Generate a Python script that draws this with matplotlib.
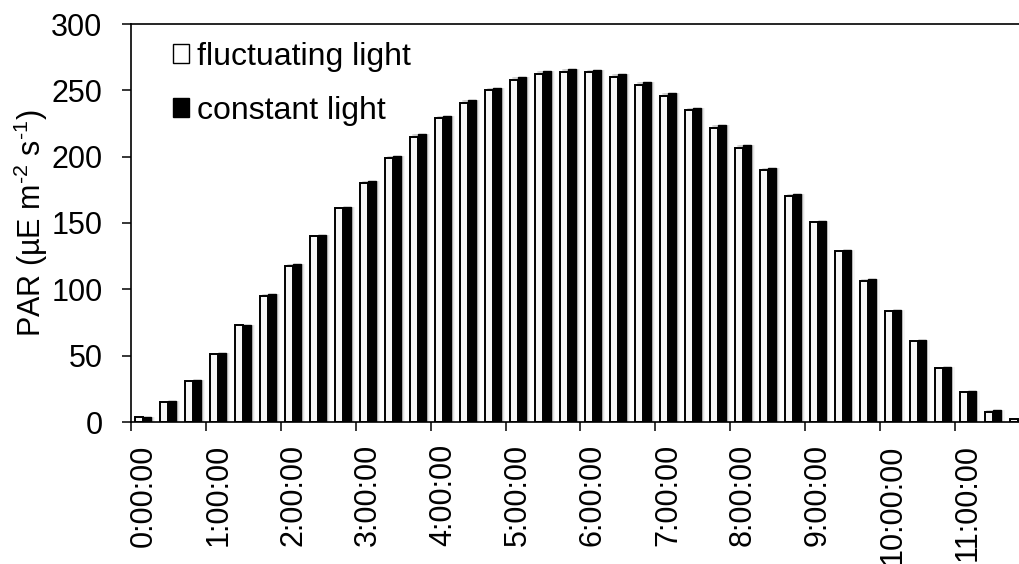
"""PAR over a 12 h light period: fluctuating vs constant light, grouped bars."""

import matplotlib

matplotlib.use("Agg")
import matplotlib.pyplot as plt
import numpy as np
from matplotlib.patches import Patch

# PAR (uE m-2 s-1) every 20 min
FLUCTUATING = [3.5, 15, 31, 51, 73, 95, 117.5, 140, 161, 180.5, 198.7, 214.5,
               228.8, 240.6, 250, 257.7, 262, 264, 263.5, 260, 254.2, 245.9,
               235, 221.8, 206.7, 189.7, 170.5, 150.5, 128.6, 106.5, 83.6,
               61.3, 40.7, 22.6, 7.8, 2.3]
CONSTANT = [4, 15.6, 32, 52, 73.3, 96.2, 119, 141, 162, 182, 200.5, 216.8,
            230.8, 242.6, 252, 259.7, 264.3, 266.3, 265.5, 262.2, 256.4,
            248.1, 237, 223.8, 208.5, 191.2, 172.2, 151.5, 129.8, 107.8, 84.4,
            62, 41.4, 23.4, 9, 2.6]
HOUR_LABELS = ["0:00:00", "1:00:00", "2:00:00", "3:00:00", "4:00:00",
               "5:00:00", "6:00:00", "7:00:00", "8:00:00", "9:00:00",
               "10:00:00", "11:00:00"]
SERIES_NAMES = ["fluctuating light", "constant light"]
PER_HOUR = 3

FONT = 22
LEGEND_FONT = 23
BAR_W = 0.32


def main() -> None:
    plt.rcParams["font.family"] = ["Liberation Sans", "DejaVu Sans"]
    plt.rcParams["mathtext.fontset"] = "custom"
    plt.rcParams["mathtext.rm"] = "Liberation Sans"

    fig = plt.figure(figsize=(10.2, 5.64), dpi=100)
    ax = fig.add_axes([131 / 1020, 1 - 422 / 564, 899 / 1020, 398 / 564])

    n = len(FLUCTUATING)
    centers = np.arange(n) + 0.5

    # soft drop shadow behind each pair of bars
    tops = np.maximum(FLUCTUATING, CONSTANT)
    for dx, a in [(0.16, 0.10), (0.11, 0.18), (0.07, 0.25)]:
        ax.bar(centers + dx, tops, width=2 * BAR_W, color="#9a9a9a",
               alpha=a, linewidth=0, zorder=1)

    ax.bar(centers - BAR_W / 2, FLUCTUATING, width=BAR_W, color="#f7f7f7",
           edgecolor="black", linewidth=1.4, zorder=2)
    ax.bar(centers + BAR_W / 2, CONSTANT, width=BAR_W, color="black",
           edgecolor="black", linewidth=1.0, zorder=3)

    ax.set_xlim(0, n)
    ax.set_ylim(0, 300)
    ax.set_yticks(np.arange(0, 301, 50))
    ax.tick_params(axis="y", direction="out", length=6.5, width=1.1,
                   pad=14, labelsize=FONT)

    ax.set_xticks(np.arange(0, n, PER_HOUR))
    ax.set_xticklabels([])
    ax.set_xticks(np.arange(0, n, PER_HOUR) + 0.5, minor=True)
    ax.set_xticklabels(HOUR_LABELS, minor=True, rotation=90)
    ax.tick_params(axis="x", which="major", direction="out", length=6.5,
                   width=1.1)
    ax.tick_params(axis="x", which="minor", length=0, pad=16,
                   labelsize=FONT)

    for side in ["left", "bottom", "top"]:
        ax.spines[side].set_linewidth(1.2)
    ax.spines["right"].set_visible(False)

    ax.set_ylabel(r"PAR (µE m$^{\text{-2}}$ s$^{\text{-1}}$)",
                  fontsize=FONT, labelpad=1)

    handles = [Patch(facecolor="white", edgecolor="black", linewidth=1.0),
               Patch(facecolor="black", edgecolor="black", linewidth=1.0)]
    ax.legend(handles, SERIES_NAMES, loc="upper left",
              bbox_to_anchor=(42 / 899, 0.955), frameon=False,
              fontsize=LEGEND_FONT, handlelength=0.5, handleheight=0.5,
              handletextpad=0.25, labelspacing=0.75, borderpad=0,
              borderaxespad=0)

    fig.savefig("out.png", dpi=100)
    plt.close(fig)


if __name__ == "__main__":
    main()
